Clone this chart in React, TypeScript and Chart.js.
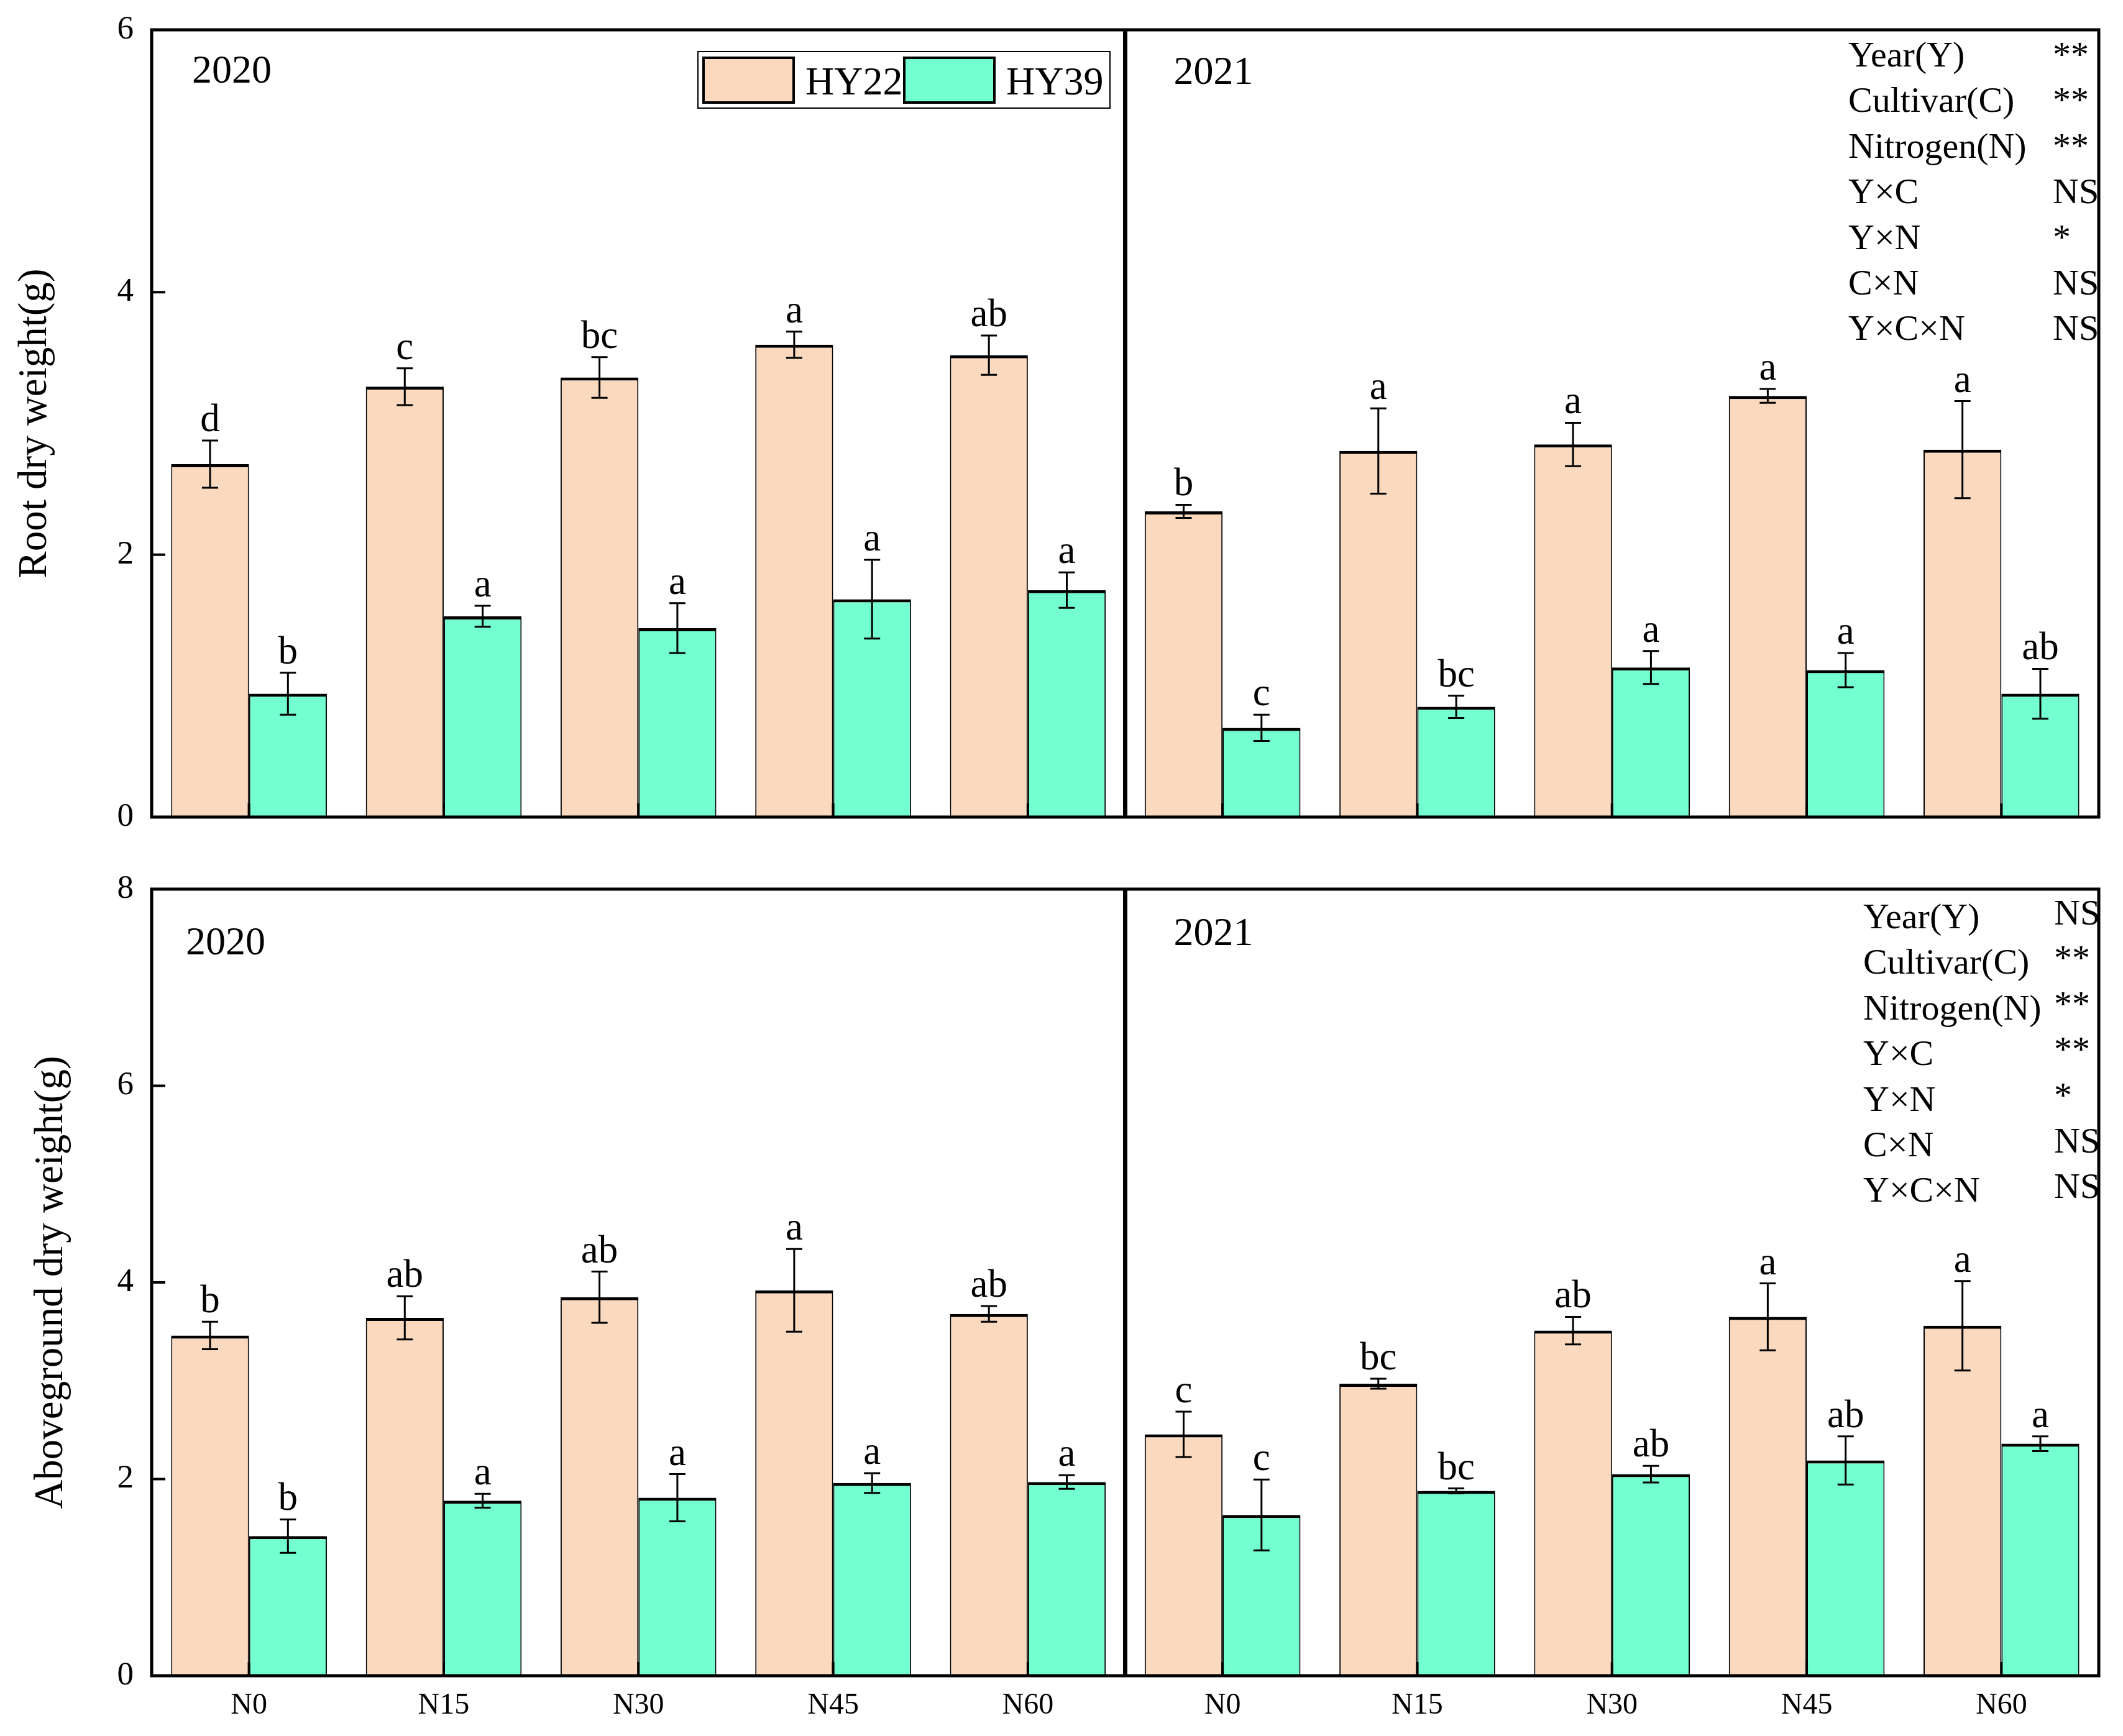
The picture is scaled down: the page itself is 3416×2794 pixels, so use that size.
import React, { useEffect, useRef } from 'react';
import { Chart, registerables } from 'chart.js';

Chart.register(...registerables);

// ---------------- data ----------------
const nitrogenLevels = ['N0', 'N15', 'N30', 'N45', 'N60'];
const yearLabels = ['2020', '2021'];
const cultivarNames = ['HY22', 'HY39'];

// Root dry weight (g)
const rootHY22_2020 = [2.69, 3.28, 3.35, 3.6, 3.52];
const rootHY22_2020Err = [0.18, 0.14, 0.155, 0.1, 0.15];
const rootHY39_2020 = [0.94, 1.53, 1.44, 1.66, 1.73];
const rootHY39_2020Err = [0.16, 0.08, 0.19, 0.3, 0.135];
const rootHY22_2021 = [2.33, 2.79, 2.84, 3.21, 2.8];
const rootHY22_2021Err = [0.05, 0.325, 0.165, 0.053, 0.37];
const rootHY39_2021 = [0.68, 0.84, 1.14, 1.12, 0.94];
const rootHY39_2021Err = [0.1, 0.085, 0.125, 0.13, 0.19];
const rootHY22Letters = ['d', 'c', 'bc', 'a', 'ab', 'b', 'a', 'a', 'a', 'a'];
const rootHY39Letters = ['b', 'a', 'a', 'a', 'a', 'c', 'bc', 'a', 'a', 'ab'];

// Aboveground dry weight (g)
const shootHY22_2020 = [3.46, 3.64, 3.85, 3.92, 3.68];
const shootHY22_2020Err = [0.14, 0.22, 0.26, 0.42, 0.08];
const shootHY39_2020 = [1.42, 1.78, 1.81, 1.96, 1.97];
const shootHY39_2020Err = [0.17, 0.07, 0.24, 0.1, 0.07];
const shootHY22_2021 = [2.455, 2.97, 3.51, 3.65, 3.56];
const shootHY22_2021Err = [0.23, 0.05, 0.14, 0.34, 0.455];
const shootHY39_2021 = [1.635, 1.88, 2.05, 2.19, 2.36];
const shootHY39_2021Err = [0.36, 0.025, 0.085, 0.245, 0.075];
const shootHY22Letters = ['b', 'ab', 'ab', 'a', 'ab', 'c', 'bc', 'ab', 'a', 'a'];
const shootHY39Letters = ['b', 'a', 'a', 'a', 'a', 'c', 'bc', 'ab', 'ab', 'a'];

// ANOVA table
const anovaFactors = ['Year(Y)', 'Cultivar(C)', 'Nitrogen(N)', 'Y×C', 'Y×N', 'C×N', 'Y×C×N'];
const rootSignificance = ['**', '**', '**', 'NS', '*', 'NS', 'NS'];
const shootSignificance = ['NS', '**', '**', '**', '*', 'NS', 'NS'];

const yTicksRoot = [0, 2, 4, 6];
const yTicksShoot = [0, 2, 4, 6, 8];

// ---------------- styles ----------------
const FONT = '"Liberation Serif", "Times New Roman", serif';
const HY22_COLOR = '#FAD9BE';
const HY39_COLOR = '#73FFD0';
const f = (s: number) => `${s}px ${FONT}`;

type RowSpec = {
  hy22: number[];
  hy22Err: number[];
  hy39: number[];
  hy39Err: number[];
  hy22Letters: string[];
  hy39Letters: string[];
  yTicks: number[];
  yTitle: string;
  significance: string[];
  showXLabels: boolean;
  showLegend: boolean;
  height: number;
  padTop: number;
  xAxisHeight: number;
  titleX: number;
  yearPos: { dx: number; dy: number }[];
  statsX: number;
  statsX2: number;
  statsY: number;
  stats2dy: number;
};

function buildConfig(row: RowSpec): any {
  const labels = [...nitrogenLevels, ...nitrogenLevels];
  const vals = [row.hy22, row.hy39];
  const errs = [row.hy22Err, row.hy39Err];
  const letters = [row.hy22Letters, row.hy39Letters];

  const annot = {
    id: 'annot',
    afterDatasetsDraw(chart: any) {
      const ctx = chart.ctx as CanvasRenderingContext2D;
      const { left, right, top, bottom } = chart.chartArea;
      const ys = chart.scales.y;
      const xs = chart.scales.x;
      ctx.save();
      // error bars + letters
      for (let di = 0; di < 2; di++) {
        const meta = chart.getDatasetMeta(di);
        meta.data.forEach((bar: any, j: number) => {
          const v = vals[di][j];
          const e = errs[di][j];
          const yt = ys.getPixelForValue(v + e);
          const yb = ys.getPixelForValue(v - e);
          ctx.strokeStyle = '#000';
          ctx.lineWidth = 3;
          ctx.beginPath();
          ctx.moveTo(bar.x, yt);
          ctx.lineTo(bar.x, yb);
          ctx.moveTo(bar.x - 13, yt);
          ctx.lineTo(bar.x + 13, yt);
          ctx.moveTo(bar.x - 13, yb);
          ctx.lineTo(bar.x + 13, yb);
          ctx.stroke();
          ctx.fillStyle = '#000';
          ctx.font = f(63);
          ctx.textAlign = 'center';
          ctx.textBaseline = 'alphabetic';
          ctx.fillText(letters[di][j], bar.x, yt - 15);
        });
      }
      // inward x ticks at category centres
      ctx.lineWidth = 4;
      ctx.strokeStyle = '#000';
      ctx.beginPath();
      for (let i = 0; i < labels.length; i++) {
        const px = xs.getPixelForValue(i);
        ctx.moveTo(px, bottom);
        ctx.lineTo(px, bottom - 22);
      }
      // inward y ticks on the left panel
      row.yTicks.forEach((t) => {
        const py = ys.getPixelForValue(t);
        ctx.moveTo(left, py);
        ctx.lineTo(left + 22, py);
      });
      ctx.stroke();
      // panel frames
      const mid = (xs.getPixelForValue(4) + xs.getPixelForValue(5)) / 2;
      ctx.lineWidth = 5;
      ctx.strokeRect(left, top, right - left, bottom - top);
      ctx.lineWidth = 7;
      ctx.beginPath();
      ctx.moveTo(mid, top - 2);
      ctx.lineTo(mid, bottom);
      ctx.stroke();
      ctx.restore();
    },
    afterDraw(chart: any) {
      const ctx = chart.ctx as CanvasRenderingContext2D;
      const { left, top, bottom } = chart.chartArea;
      const xs = chart.scales.x;
      const mid = (xs.getPixelForValue(4) + xs.getPixelForValue(5)) / 2;
      ctx.save();
      ctx.fillStyle = '#000';
      // y title
      ctx.save();
      ctx.translate(row.titleX, (top + bottom) / 2);
      ctx.rotate(-Math.PI / 2);
      ctx.font = f(65);
      ctx.textAlign = 'center';
      ctx.textBaseline = 'alphabetic';
      ctx.fillText(row.yTitle, 0, 0);
      ctx.restore();
      // year labels
      ctx.font = f(64);
      ctx.textAlign = 'left';
      ctx.textBaseline = 'alphabetic';
      const panelLefts = [left, mid];
      yearLabels.forEach((yl, i) => {
        ctx.fillText(yl, panelLefts[i] + row.yearPos[i].dx, top + row.yearPos[i].dy);
      });
      // ANOVA table
      ctx.font = f(58);
      anovaFactors.forEach((fac, i) => {
        const by = row.statsY + i * 73.4;
        ctx.fillText(fac, row.statsX, by);
        ctx.fillText(row.significance[i], row.statsX2, by + row.stats2dy);
      });
      // legend
      if (row.showLegend) {
        ctx.lineWidth = 2;
        ctx.strokeStyle = '#000';
        ctx.strokeRect(1123, 83, 663, 91);
        const ds = chart.data.datasets;
        const sw = [1132, 1455];
        const tx = [1296, 1619];
        ds.forEach((d: any, i: number) => {
          ctx.fillStyle = d.backgroundColor;
          ctx.fillRect(sw[i], 93, 145, 72);
          ctx.lineWidth = 4;
          ctx.strokeRect(sw[i], 93, 145, 72);
          ctx.fillStyle = '#000';
          ctx.font = f(64);
          ctx.textBaseline = 'alphabetic';
          ctx.fillText(d.label, tx[i], 152);
        });
      }
      ctx.restore();
    },
  };

  const barBorder = { top: 5, left: 2, right: 2, bottom: 0 };

  return {
    type: 'bar',
    data: {
      labels,
      datasets: [
        {
          label: cultivarNames[0],
          data: row.hy22,
          backgroundColor: HY22_COLOR,
          borderColor: '#000',
          borderWidth: barBorder,
          borderSkipped: false,
          categoryPercentage: 0.8,
          barPercentage: 1.0,
        },
        {
          label: cultivarNames[1],
          data: row.hy39,
          backgroundColor: HY39_COLOR,
          borderColor: '#000',
          borderWidth: barBorder,
          borderSkipped: false,
          categoryPercentage: 0.8,
          barPercentage: 1.0,
        },
      ],
    },
    options: {
      animation: false,
      responsive: false,
      devicePixelRatio: 1,
      layout: { padding: { top: row.padTop, right: 39, left: 0, bottom: 0 } },
      plugins: {
        legend: { display: false },
        tooltip: { enabled: false },
        title: { display: false },
      },
      scales: {
        x: {
          type: 'category',
          grid: { display: false, drawTicks: false },
          border: { display: false },
          ticks: {
            display: row.showXLabels,
            font: { family: FONT, size: 48 },
            color: '#000',
            padding: 20,
            maxRotation: 0,
            autoSkip: false,
          },
          afterFit: (s: any) => {
            s.height = row.xAxisHeight;
            s.paddingLeft = 0;
            s.paddingRight = 0;
          },
        },
        y: {
          type: 'linear',
          min: 0,
          max: row.yTicks[row.yTicks.length - 1],
          grid: { display: false, drawTicks: false },
          border: { display: false },
          ticks: {
            stepSize: 2,
            font: { family: FONT, size: 53 },
            color: '#000',
            padding: 29,
          },
          afterFit: (s: any) => {
            s.width = 244;
            s.paddingTop = 0;
            s.paddingBottom = 0;
          },
        },
      },
    },
    plugins: [annot],
  };
}

const rootRow: RowSpec = {
  hy22: [...rootHY22_2020, ...rootHY22_2021],
  hy22Err: [...rootHY22_2020Err, ...rootHY22_2021Err],
  hy39: [...rootHY39_2020, ...rootHY39_2021],
  hy39Err: [...rootHY39_2020Err, ...rootHY39_2021Err],
  hy22Letters: rootHY22Letters,
  hy39Letters: rootHY39Letters,
  yTicks: yTicksRoot,
  yTitle: 'Root dry weight(g)',
  significance: rootSignificance,
  showXLabels: false,
  showLegend: true,
  height: 1400,
  padTop: 48,
  xAxisHeight: 85,
  titleX: 74,
  yearPos: [
    { dx: 65, dy: 85 },
    { dx: 78, dy: 87 },
  ],
  statsX: 2974,
  statsX2: 3303,
  statsY: 107,
  stats2dy: 0,
};

const shootRow: RowSpec = {
  hy22: [...shootHY22_2020, ...shootHY22_2021],
  hy22Err: [...shootHY22_2020Err, ...shootHY22_2021Err],
  hy39: [...shootHY39_2020, ...shootHY39_2021],
  hy39Err: [...shootHY39_2020Err, ...shootHY39_2021Err],
  hy22Letters: shootHY22Letters,
  hy39Letters: shootHY39Letters,
  yTicks: yTicksShoot,
  yTitle: 'Aboveground dry weight(g)',
  significance: shootSignificance,
  showXLabels: true,
  showLegend: false,
  height: 1394,
  padTop: 31,
  xAxisHeight: 97,
  titleX: 100,
  yearPos: [
    { dx: 55, dy: 105 },
    { dx: 78, dy: 90 },
  ],
  statsX: 2998,
  statsX2: 3305,
  statsY: 94,
  stats2dy: -6,
};

export default function App() {
  const topRef = useRef<HTMLCanvasElement>(null);
  const botRef = useRef<HTMLCanvasElement>(null);

  useEffect(() => {
    const c1 = new Chart(topRef.current as HTMLCanvasElement, buildConfig(rootRow));
    const c2 = new Chart(botRef.current as HTMLCanvasElement, buildConfig(shootRow));
    return () => {
      c1.destroy();
      c2.destroy();
    };
  }, []);

  return (
    <div
      style={{
        position: 'absolute',
        left: 0,
        top: 0,
        width: 3416,
        height: 2794,
        background: '#fff',
        overflow: 'hidden',
      }}
    >
      <canvas
        ref={topRef}
        width={3416}
        height={1400}
        style={{ position: 'absolute', left: 0, top: 0, width: 3416, height: 1400 }}
      />
      <canvas
        ref={botRef}
        width={3416}
        height={1394}
        style={{ position: 'absolute', left: 0, top: 1400, width: 3416, height: 1394 }}
      />
    </div>
  );
}
